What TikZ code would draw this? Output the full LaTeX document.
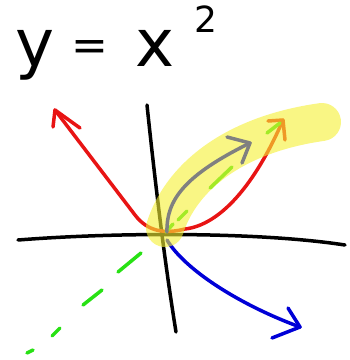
\documentclass[tikz,border=0pt]{standalone}
\usepackage{fontspec}
\setmainfont{DejaVu Sans}
\definecolor{penred}{RGB}{232,20,20}
\definecolor{pengreen}{RGB}{40,225,20}
\definecolor{penblue}{RGB}{0,0,215}
\definecolor{pengray}{RGB}{128,128,128}
\definecolor{hilite}{RGB}{245,240,50}
\begin{document}
\begin{tikzpicture}[x=1pt,y=-1pt,line cap=round,line join=round,
  axisline/.style={black,line width=3.5},
  pen/.style={line width=3.5},
  handtext/.style={inner sep=0pt,anchor=base,font=\fontsize{66}{72}\selectfont}]
\useasboundingbox (0,0) rectangle (350,360);
% text
\node[handtext] (ty) at (35,66) {y};
\node[handtext,font=\fontsize{44}{50}\selectfont] (teq) at (90,60) {=};
\node[handtext] (tx) at (155,66) {x};
\node[handtext,font=\fontsize{36}{40}\selectfont] (t2) at (206,32) {2};
% axes
\draw[axisline] (18,240) .. controls (120,232) and (260,232) .. (345,245);
\draw[axisline] (147,105) .. controls (157,200) and (166,270) .. (176,332);
% red parabola
\draw[pen,penred] (55,110) -- (135,215) .. controls (148,232) and (165,234) .. (185,229)
  .. controls (220,225) and (255,185) .. (283,120);
\draw[pen,penred] (53,127) -- (55,110) -- (80,128);
\draw[pen,penred] (268,121) -- (283,120) -- (285,140);
% green dashes
\foreach \a/\b in {{(27,353)}/{(33,350)},{(52,336)}/{(60,328)},{(83,305)}/{(102,290)},
  {(118,272)}/{(141,253)},{(166,232)}/{(173,224)},{(178,220)}/{(187,211)},{(210,188)}/{(232,167)},{(267,133)}/{(280,123)}}
  \draw[pen,pengreen] \a -- \b;
% blue arrow
\draw[pen,penblue] (167,240) .. controls (185,270) and (240,305) .. (300,327);
\draw[pen,penblue] (288,308) -- (300,327) -- (272,338);
% highlighter
\draw[hilite,opacity=0.6,line width=38] (165,228) .. controls (180,180) and (230,135) .. (322,122);
% gray arrow
\draw[pen,pengray] (167,232) .. controls (166,200) and (185,175) .. (250,143);
\draw[pen,pengray] (227,137) -- (250,143) -- (242,163);
\end{tikzpicture}
\end{document}
